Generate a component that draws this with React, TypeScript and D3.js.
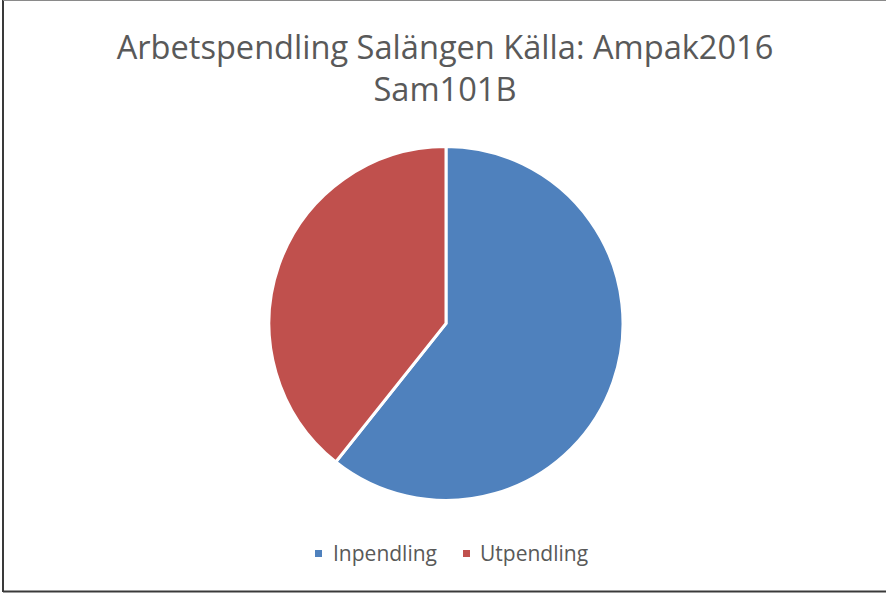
import React, { useEffect, useRef } from 'react';
import * as d3 from 'd3';

const categories = ['Inpendling', 'Utpendling'];
const values = [607, 393];
const colors = ['#4f81bd', '#c0504d'];
const titleLines = ['Arbetspendling Salängen Källa: Ampak2016', 'Sam101B'];

const width = 886;
const height = 593;

const App = () => {
  const ref = useRef<SVGGElement | null>(null);

  useEffect(() => {
    const g = d3.select(ref.current);
    g.selectAll('*').remove();

    // chart frame: left, top and bottom edges only (right edge is cropped off)
    const frame = [
      [3, 0, 3, 592],
      [3, 0.5, 886, 0.5],
      [3, 591.5, 886, 591.5],
    ];
    g.selectAll('.frame')
      .data(frame)
      .join('line')
      .attr('class', 'frame')
      .attr('x1', (d) => d[0])
      .attr('y1', (d) => d[1])
      .attr('x2', (d) => d[2])
      .attr('y2', (d) => d[3])
      .attr('stroke', (d, i) => (i === 1 ? '#8a8a8a' : '#3a3a3a'))
      .attr('stroke-width', (d, i) => (i === 1 ? 1 : 2));

    g.selectAll('.title')
      .data(titleLines)
      .join('text')
      .attr('class', 'title')
      .attr('x', 445)
      .attr('y', (d, i) => 59 + i * 42)
      .attr('text-anchor', 'middle')
      .style('font-family', '"Open Sans", sans-serif')
      .style('font-size', '32.6px')
      .attr('fill', '#595959')
      .text((d) => d);

    const cx = 446;
    const cy = 323.5;
    const r = 177;

    const pie = d3.pie<number>().sort(null).value((d) => d);
    const arc = d3.arc<d3.PieArcDatum<number>>().innerRadius(0).outerRadius(r);

    g.append('g')
      .attr('transform', `translate(${cx}, ${cy})`)
      .selectAll('path')
      .data(pie(values))
      .join('path')
      .attr('d', arc)
      .attr('fill', (d, i) => colors[i])
      .attr('stroke', '#fff')
      .attr('stroke-width', 3)
      .attr('stroke-linejoin', 'miter');

    // legend
    const legendX = [315, 463];
    const legend = g
      .selectAll('.legend')
      .data(categories)
      .join('g')
      .attr('class', 'legend')
      .attr('transform', (d, i) => `translate(${legendX[i]}, 550)`);

    legend
      .append('rect')
      .attr('width', 7)
      .attr('height', 7)
      .attr('fill', (d, i) => colors[i]);

    legend
      .append('text')
      .attr('x', (d, i) => (i === 0 ? 18 : 17))
      .attr('y', 11)
      .style('font-family', '"Open Sans", sans-serif')
      .style('font-size', '21px')
      .attr('fill', '#595959')
      .text((d) => d);
  }, []);

  return (
    <svg
      width={width}
      height={height}
      style={{ position: 'fixed', left: 0, top: 0, background: '#fff' }}
    >
      <g ref={ref} />
    </svg>
  );
};

export default App;
